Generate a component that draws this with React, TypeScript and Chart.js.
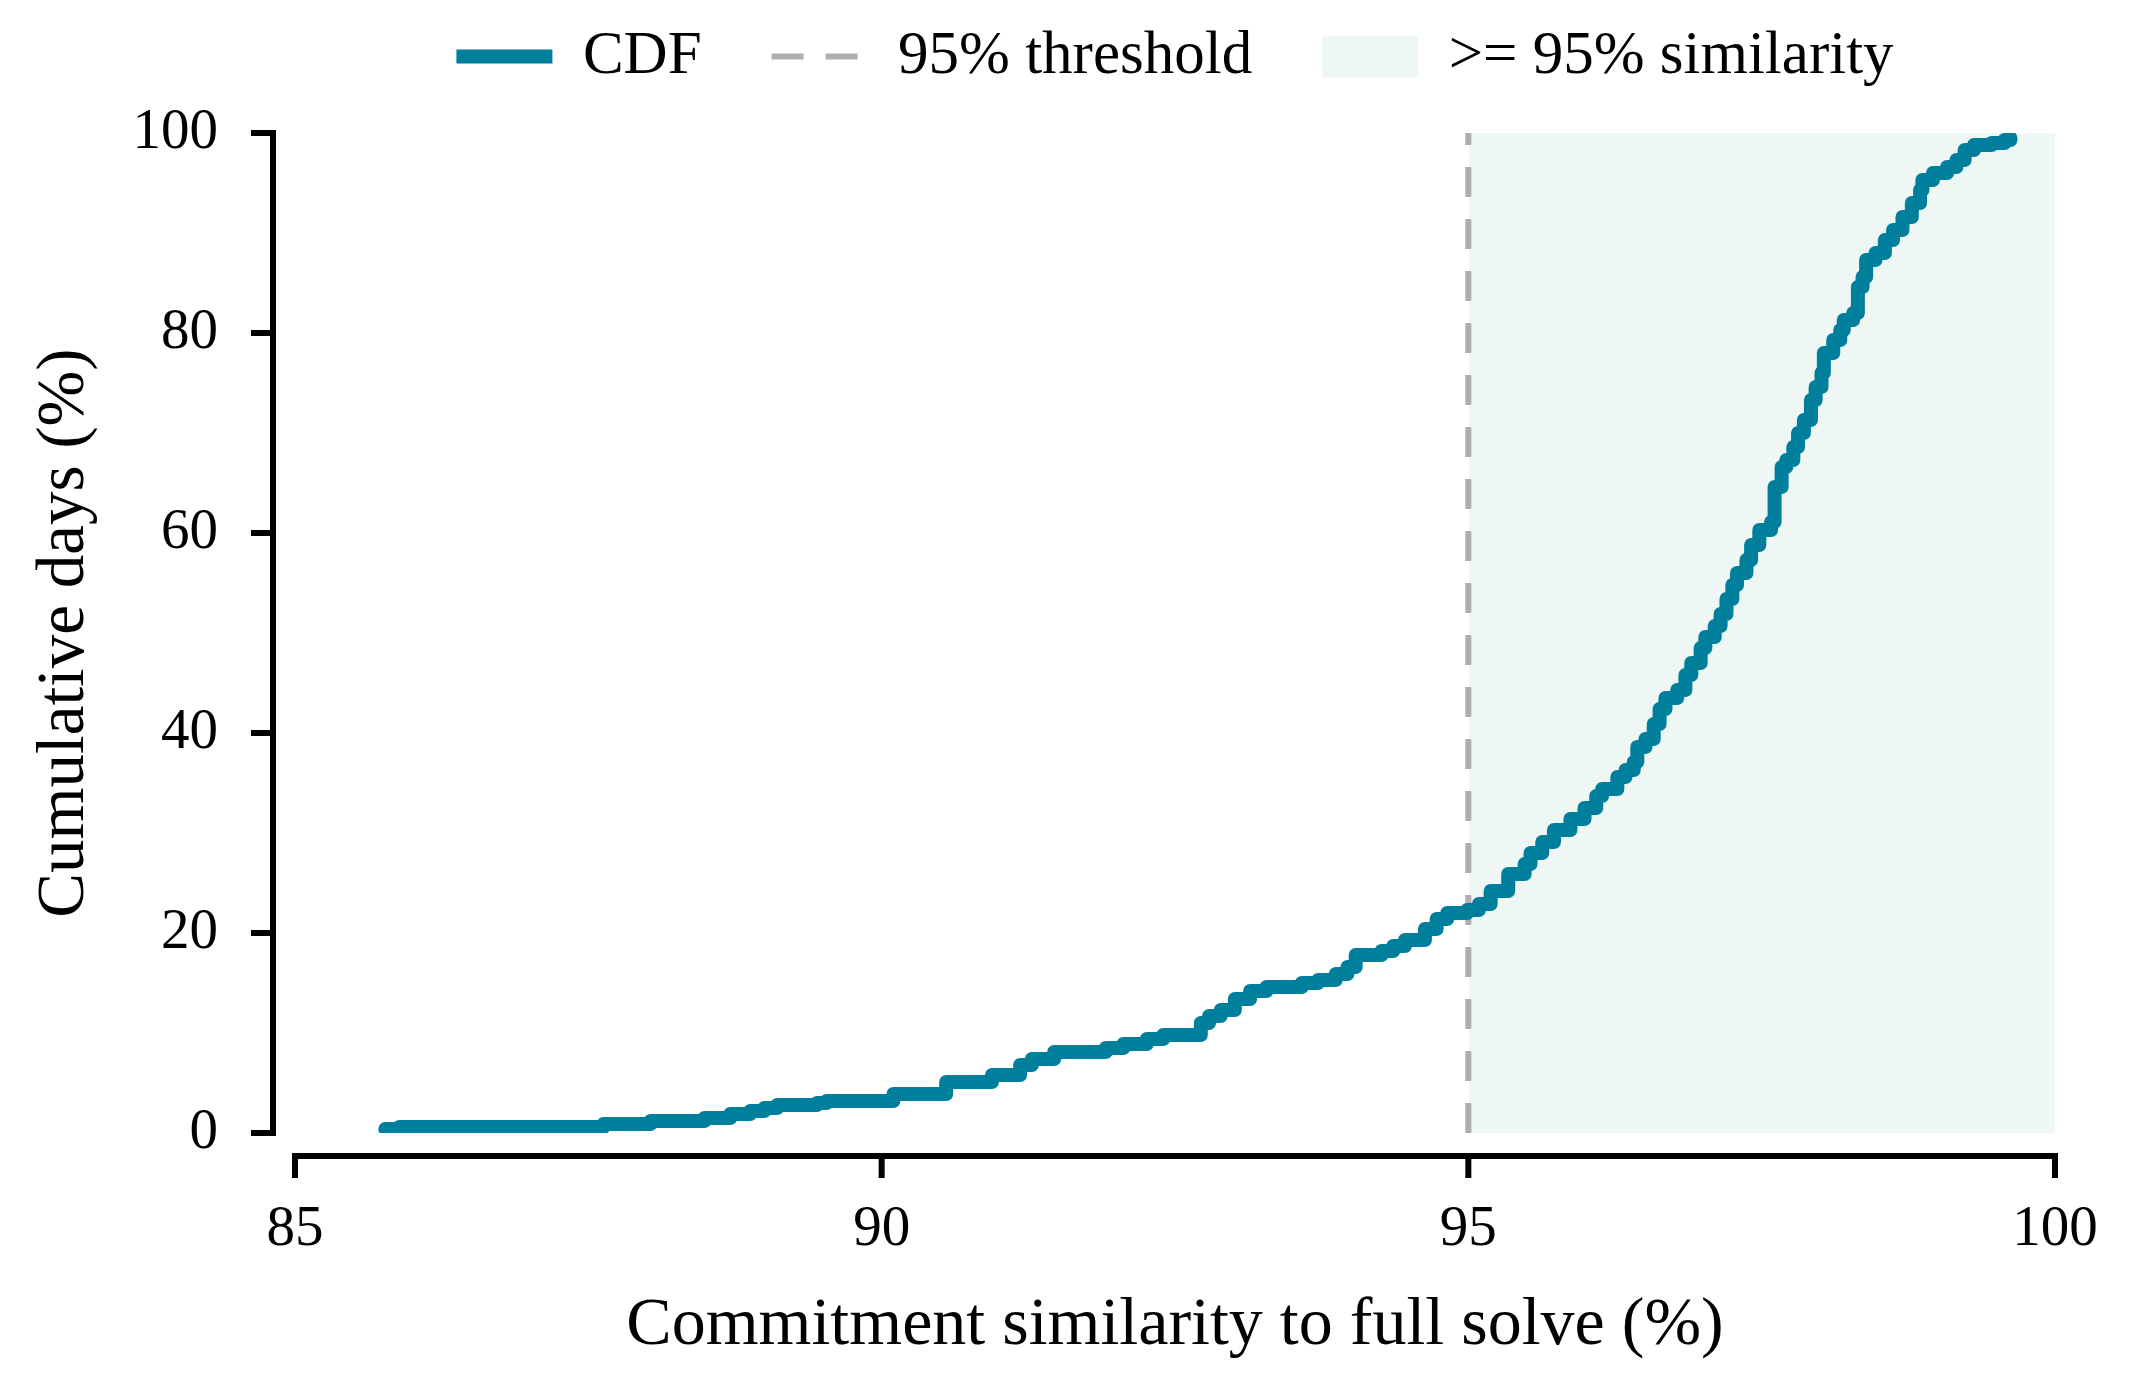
import React, { useEffect, useRef } from 'react';
import { Chart, registerables } from 'chart.js';

Chart.register(...registerables);

const cdfX = [
  85.77, 85.89, 87.63, 88.03, 88.49, 88.71, 88.88, 89.0, 89.11, 89.45,
  89.53, 90.1, 90.55, 90.94, 91.18, 91.28, 91.47, 91.91, 92.06, 92.26,
  92.4, 92.72, 92.79, 92.89, 93.01, 93.14, 93.28, 93.58, 93.72, 93.87,
  93.97, 94.04, 94.26, 94.36, 94.46, 94.63, 94.73, 94.82, 94.99, 95.09,
  95.19, 95.34, 95.48, 95.53, 95.63, 95.73, 95.87, 95.99, 96.09, 96.14,
  96.27, 96.34, 96.41, 96.44, 96.51, 96.58, 96.63, 96.68, 96.78, 96.85,
  96.9, 96.98, 97.02, 97.1, 97.15, 97.2, 97.25, 97.29, 97.37, 97.41,
  97.48, 97.58, 97.61, 97.67, 97.71, 97.77, 97.81, 97.86, 97.92, 97.96,
  98.01, 98.03, 98.11, 98.17, 98.2, 98.28, 98.32, 98.36, 98.39, 98.47,
  98.55, 98.62, 98.7, 98.78, 98.85, 98.87, 98.96, 99.08, 99.16, 99.23,
  99.31, 99.46, 99.57, 99.62,
];
const cdfY = [
  0.4, 0.6, 0.9, 1.2, 1.5, 1.9, 2.2, 2.5, 2.8, 3.0,
  3.2, 3.9, 5.1, 5.8, 6.8, 7.4, 8.1, 8.5, 8.9, 9.4,
  9.8, 11.0, 11.7, 12.3, 13.4, 14.2, 14.6, 15.0, 15.3, 15.9,
  16.6, 17.8, 18.2, 18.7, 19.3, 20.4, 21.4, 22.0, 22.3, 22.9,
  24.2, 25.9, 26.9, 28.0, 29.1, 30.3, 31.4, 32.5, 33.7, 34.4,
  35.6, 36.3, 37.1, 38.6, 39.4, 40.9, 42.4, 43.5, 44.3, 45.8,
  47.0, 48.5, 49.6, 50.7, 51.9, 53.4, 54.8, 56.0, 57.3, 58.8,
  60.3, 61.1, 64.6, 66.6, 67.3, 68.6, 70.0, 71.3, 73.3, 74.6,
  76.0, 78.0, 79.3, 80.3, 81.3, 82.0, 84.6, 85.6, 87.3, 88.0,
  89.3, 90.3, 91.6, 93.0, 94.3, 95.3, 96.0, 96.6, 97.3, 98.3,
  98.8, 99.0, 99.3, 99.5,
];

const thresholdX = 95;
const xTicks = [85, 90, 95, 100];
const yTicks = [0, 20, 40, 60, 80, 100];
const legendLabels = ['CDF', '95% threshold', '>= 95% similarity'];

const TEAL = '#007f9d';
const GREY = '#aeaeae';
const SHADE = '#eef7f4';
const FONT = "'Liberation Serif', 'Times New Roman', serif";

// matplotlib-style offset spines with outward ticks
const spinesPlugin = {
  id: 'spines',
  afterDraw(chart: Chart) {
    const { ctx, chartArea } = chart;
    const x = chart.scales.x;
    const y = chart.scales.y;
    const sx = chartArea.left - 22;
    const sy = chartArea.bottom + 23;
    const tick = 22;
    ctx.save();
    ctx.strokeStyle = '#000';
    ctx.lineWidth = 6;

    ctx.lineCap = 'square';
    ctx.beginPath();
    ctx.moveTo(sx, y.getPixelForValue(yTicks[0]));
    ctx.lineTo(sx, y.getPixelForValue(yTicks[yTicks.length - 1]));
    ctx.moveTo(x.getPixelForValue(xTicks[0]), sy);
    ctx.lineTo(x.getPixelForValue(xTicks[xTicks.length - 1]), sy);
    ctx.stroke();

    ctx.lineCap = 'butt';
    ctx.beginPath();
    yTicks.forEach((v) => {
      const py = y.getPixelForValue(v);
      ctx.moveTo(sx, py);
      ctx.lineTo(sx - tick, py);
    });
    xTicks.forEach((v) => {
      const px = x.getPixelForValue(v);
      ctx.moveTo(px, sy);
      ctx.lineTo(px, sy + tick);
    });
    ctx.stroke();
    ctx.restore();
  },
};

const App: React.FC = () => {
  const chartRef = useRef<HTMLCanvasElement>(null);
  const chartInstance = useRef<Chart | null>(null);

  useEffect(() => {
    document.body.style.margin = '0';
    if (!chartRef.current) return;
    const ctx = chartRef.current.getContext('2d');
    if (!ctx) return;

    if (chartInstance.current) {
      chartInstance.current.destroy();
    }

    chartInstance.current = new Chart(ctx, {
      type: 'line',
      data: {
        datasets: [
          {
            label: legendLabels[0],
            data: cdfX.map((v, i) => ({ x: v, y: cdfY[i] })),
            stepped: 'before',
            borderColor: TEAL,
            borderWidth: 14,
            borderJoinStyle: 'round',
            borderCapStyle: 'round',
            pointRadius: 0,
            fill: false,
            order: 1,
          },
          {
            label: legendLabels[1],
            data: [
              { x: thresholdX, y: yTicks[0] },
              { x: thresholdX, y: yTicks[yTicks.length - 1] },
            ],
            borderColor: GREY,
            borderWidth: 6,
            borderDash: [30, 22],
            pointRadius: 0,
            fill: false,
            order: 2,
          },
          {
            label: legendLabels[2],
            data: [
              { x: thresholdX, y: yTicks[yTicks.length - 1] },
              { x: xTicks[xTicks.length - 1], y: yTicks[yTicks.length - 1] },
            ],
            borderWidth: 0,
            borderColor: SHADE,
            backgroundColor: SHADE,
            pointRadius: 0,
            fill: 'origin',
            order: 3,
          },
        ],
      },
      options: {
        responsive: true,
        maintainAspectRatio: false,
        animation: false,
        layout: {
          padding: { top: -44, left: 0, right: 79, bottom: 0 },
        },
        scales: {
          x: {
            type: 'linear',
            min: xTicks[0],
            max: xTicks[xTicks.length - 1],
            afterBuildTicks: (scale: any) => {
              scale.ticks = xTicks.map((v) => ({ value: v }));
            },
            afterFit: (scale: any) => {
              scale.height = 254;
              scale.paddingLeft = 0;
              scale.paddingRight = 0;
            },
            grid: { display: false, drawTicks: false },
            border: { display: false },
            ticks: {
              padding: 63,
              color: '#000',
              maxRotation: 0,
              font: { family: FONT, size: 57 },
            },
            title: {
              display: true,
              text: 'Commitment similarity to full solve (%)',
              color: '#000',
              font: { family: FONT, size: 68 },
              padding: { top: 0, bottom: 20 },
            },
          },
          y: {
            type: 'linear',
            min: yTicks[0],
            max: yTicks[yTicks.length - 1],
            afterBuildTicks: (scale: any) => {
              scale.ticks = yTicks.map((v) => ({ value: v }));
            },
            afterFit: (scale: any) => {
              scale.width = 295;
              scale.paddingTop = 0;
              scale.paddingBottom = 0;
            },
            grid: { display: false, drawTicks: false },
            border: { display: false },
            ticks: {
              padding: 77,
              color: '#000',
              font: { family: FONT, size: 57 },
            },
            title: {
              display: true,
              text: 'Cumulative days (%)',
              color: '#000',
              font: { family: FONT, size: 67 },
              padding: { top: 25, bottom: 0 },
            },
          },
        },
        plugins: {
          tooltip: { enabled: false },
          legend: {
            position: 'top',
            fullSize: false,
            labels: {
              usePointStyle: true,
              pointStyleWidth: 96,
              boxHeight: 42,
              padding: 70,
              color: '#000',
              font: { family: FONT, size: 61 },
              generateLabels: () => [
                {
                  text: legendLabels[0],
                  pointStyle: 'line',
                  strokeStyle: TEAL,
                  fillStyle: TEAL,
                  lineWidth: 14,
                  lineDash: [],
                  hidden: false,
                  datasetIndex: 0,
                },
                {
                  text: legendLabels[1],
                  pointStyle: 'line',
                  strokeStyle: GREY,
                  fillStyle: GREY,
                  lineWidth: 6,
                  lineDash: [32, 22],
                  hidden: false,
                  datasetIndex: 1,
                },
                {
                  text: legendLabels[2],
                  pointStyle: 'rect',
                  strokeStyle: SHADE,
                  fillStyle: SHADE,
                  lineWidth: 0,
                  hidden: false,
                  datasetIndex: 2,
                },
              ],
            },
          },
          // empty spacer between the legend and the plot area
          subtitle: {
            display: true,
            text: '',
            position: 'top',
            weight: 500,
            font: { size: 1, lineHeight: 1 },
            padding: { top: 35, bottom: 0 },
          },
        },
      },
      plugins: [spinesPlugin],
    } as any);

    return () => {
      if (chartInstance.current) {
        chartInstance.current.destroy();
        chartInstance.current = null;
      }
    };
  }, []);

  return (
    <div style={{ width: '2134px', height: '1387px', position: 'relative' }}>
      <canvas ref={chartRef} />
    </div>
  );
};

export default App;
